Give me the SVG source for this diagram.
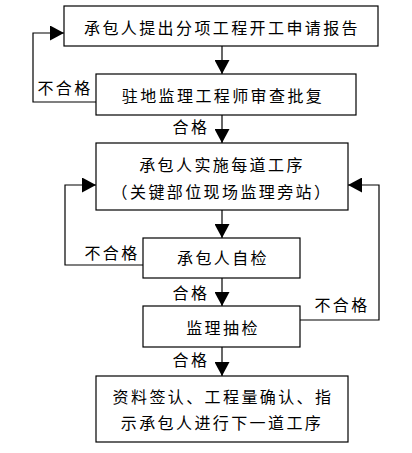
<svg xmlns="http://www.w3.org/2000/svg" width="412" height="453" viewBox="0 0 412 453">
<style>
.box{fill:#fff;stroke:#000;stroke-width:1.2}
.t{font-family:"Noto Sans CJK SC","Noto Sans CJK TC",sans-serif;font-size:16px;letter-spacing:2.4px;fill:#000;text-anchor:middle}
.c{fill:none;stroke:#000;stroke-width:1.2}
</style>
<defs>
<marker id="ah" viewBox="0 0 14 15" refX="14" refY="7.5" markerWidth="14" markerHeight="15" markerUnits="userSpaceOnUse" orient="auto">
<path d="M0,0 L14,7.5 L0,15 z" fill="#000"/>
</marker>
</defs>
<rect width="412" height="453" fill="#fff"/>
<g id="connectors">
<path class="c" d="M222,46 L222,74" marker-end="url(#ah)"/>
<path class="c" d="M96,102 L33,102 L33,33 L64,33" marker-end="url(#ah)"/>
<path class="c" d="M222,115 L222,143" marker-end="url(#ah)"/>
<path class="c" d="M222,210 L222,238" marker-end="url(#ah)"/>
<path class="c" d="M143,265 L65,265 L65,185 L96,185" marker-end="url(#ah)"/>
<path class="c" d="M222,278 L222,306" marker-end="url(#ah)"/>
<path class="c" d="M300,320 L379,320 L379,185 L348,185" marker-end="url(#ah)"/>
<path class="c" d="M222,347 L222,376" marker-end="url(#ah)"/>
<text class="t" x="65" y="94">不合格</text>
<text class="t" x="191" y="133">合格</text>
<text class="t" x="112" y="259">不合格</text>
<text class="t" x="191" y="299">合格</text>
<text class="t" x="342" y="311">不合格</text>
<text class="t" x="191" y="366">合格</text>
</g>
<g id="n1">
<rect class="box" x="64" y="6" width="314" height="40"/>
<text class="t" x="222" y="34">承包人提出分项工程开工申请报告</text>
</g>
<g id="n2">
<rect class="box" x="96" y="74" width="260" height="41"/>
<text class="t" x="223" y="102">驻地监理工程师审查批复</text>
</g>
<g id="n3">
<rect class="box" x="96" y="143" width="252" height="67"/>
<text class="t" x="222" y="171">承包人实施每道工序</text>
<text class="t" x="222" y="198">（关键部位现场监理旁站）</text>
</g>
<g id="n4">
<rect class="box" x="143" y="238" width="157" height="40"/>
<text class="t" x="223" y="264">承包人自检</text>
</g>
<g id="n5">
<rect class="box" x="143" y="306" width="157" height="41"/>
<text class="t" x="223" y="334">监理抽检</text>
</g>
<g id="n6">
<rect class="box" x="96" y="376" width="252" height="66"/>
<text class="t" x="223" y="403">资料签认、工程量确认、指</text>
<text class="t" x="222" y="429">示承包人进行下一道工序</text>
</g>
</svg>
